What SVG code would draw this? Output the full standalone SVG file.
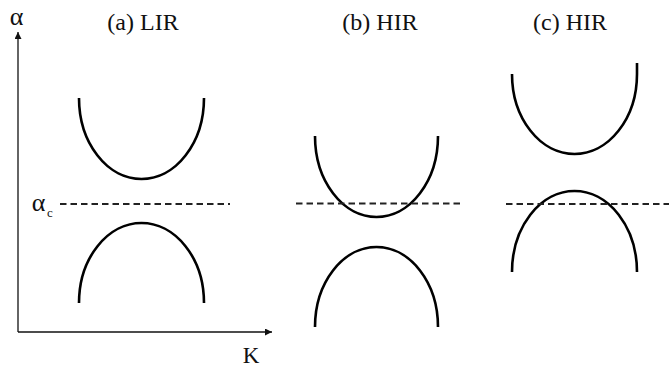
<svg xmlns="http://www.w3.org/2000/svg" width="669" height="369" viewBox="0 0 669 369">
<style>
.t{font-family:"Liberation Serif","Times New Roman",serif;fill:#111}
.curve{fill:none;stroke:#000;stroke-width:2.6}
.dash{fill:none;stroke:#222;stroke-width:1.9;stroke-dasharray:6.5 4}
.axis{fill:none;stroke:#111;stroke-width:1.3}
</style>
<defs>
<marker id="ah" viewBox="0 0 10 10" refX="10" refY="5" markerWidth="7" markerHeight="7" markerUnits="userSpaceOnUse" orient="auto">
<path d="M0,0 L10,5 L0,10 z" fill="#111"/>
</marker>
</defs>
<rect width="669" height="369" fill="#fff"/>
<g id="axes">
<path class="axis" d="M18,332 L18,32" marker-end="url(#ah)"/>
<path class="axis" d="M18,332 L272,332" marker-end="url(#ah)"/>
<text class="t" x="16.5" y="25" font-size="26" text-anchor="middle">α</text>
<text class="t" x="251" y="363" font-size="23" text-anchor="middle">K</text>
<text class="t" x="38.5" y="210.5" font-size="26" text-anchor="middle">α</text>
<text class="t" x="50" y="217" font-size="13" text-anchor="middle">c</text>
</g>
<g id="titles">
<text class="t" x="143" y="30" font-size="24" text-anchor="middle">(a) LIR</text>
<text class="t" x="380" y="30" font-size="24" text-anchor="middle">(b) HIR</text>
<text class="t" x="570" y="30" font-size="24" text-anchor="middle">(c) HIR</text>
</g>
<g id="panel-a">
<path class="curve" d="M79,98 A62.5,81 0 0 0 204,98"/>
<path class="curve" d="M79,303 A62.5,80 0 0 1 204,303"/>
<path class="dash" d="M60,204 L230,204"/>
</g>
<g id="panel-b">
<path class="curve" d="M315,136 A61.5,81 0 0 0 438,136"/>
<path class="curve" d="M315,327 A61.5,80 0 0 1 438,327"/>
<path class="dash" d="M296,203.5 L464,203.5"/>
</g>
<g id="panel-c">
<path class="curve" d="M512,74 A62.5,80 0 0 0 637,74 L637,63"/>
<path class="curve" d="M512,272 A62.5,81 0 0 1 637,272"/>
<path class="dash" d="M506,204 L669,204"/>
</g>
</svg>
